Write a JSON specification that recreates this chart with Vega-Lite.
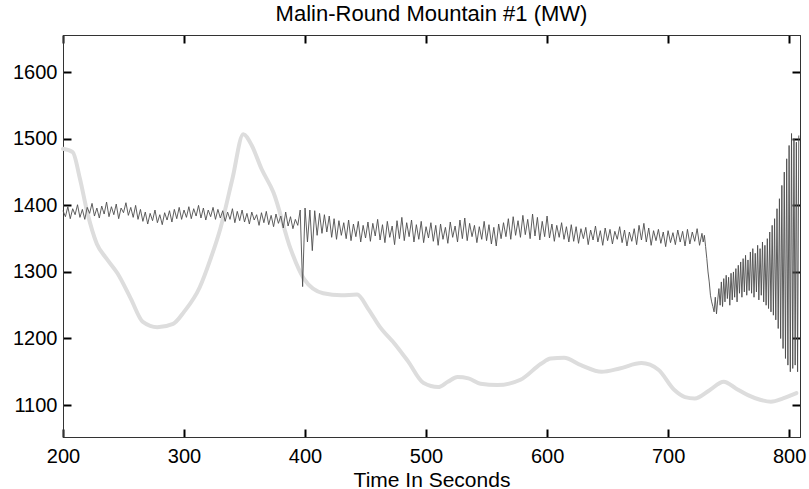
{
  "$schema": "https://vega.github.io/schema/vega-lite/v6.json",
  "width": 737,
  "height": 402,
  "autosize": {"type": "none"},
  "padding": {"left": 63, "top": 35, "right": 9, "bottom": 52},
  "background": "white",
  "config": {
    "view": {"stroke": "#333", "strokeWidth": 1},
    "font": "Liberation Sans",
    "axis": {"grid": false, "domainColor": "#333", "labelColor": "#000", "titleColor": "#000", "labelFont": "Liberation Sans", "titleFont": "Liberation Sans", "labelFontSize": 20, "titleFontSize": 21, "titleFontWeight": "normal"}
  },
  "title": {"text": "Malin-Round Mountain #1 (MW)", "fontSize": 22, "fontWeight": "normal", "font": "Liberation Sans", "color": "#000", "offset": 8, "anchor": "middle"},
  "data": {"values": [
      {"s":"slow","t":200,"v":1485},{"s":"slow","t":208,"v":1480},{"s":"slow","t":214,"v":1440},{"s":"slow","t":220,"v":1390},{"s":"slow","t":228,"v":1342},{"s":"slow","t":236,"v":1320},{"s":"slow","t":245,"v":1298},{"s":"slow","t":256,"v":1260},{"s":"slow","t":266,"v":1225},{"s":"slow","t":278,"v":1217},{"s":"slow","t":291,"v":1222},{"s":"slow","t":300,"v":1240},{"s":"slow","t":313,"v":1277},{"s":"slow","t":322,"v":1320},{"s":"slow","t":330,"v":1365},{"s":"slow","t":340,"v":1440},{"s":"slow","t":349,"v":1507},{"s":"slow","t":356,"v":1490},{"s":"slow","t":364,"v":1455},{"s":"slow","t":374,"v":1419},{"s":"slow","t":388,"v":1335},{"s":"slow","t":399,"v":1290},{"s":"slow","t":415,"v":1268},{"s":"slow","t":430,"v":1265},{"s":"slow","t":443,"v":1266},{"s":"slow","t":452,"v":1245},{"s":"slow","t":462,"v":1217},{"s":"slow","t":475,"v":1190},{"s":"slow","t":485,"v":1166},{"s":"slow","t":498,"v":1133},{"s":"slow","t":510,"v":1127},{"s":"slow","t":518,"v":1135},{"s":"slow","t":526,"v":1142},{"s":"slow","t":535,"v":1140},{"s":"slow","t":545,"v":1132},{"s":"slow","t":559,"v":1130},{"s":"slow","t":578,"v":1138},{"s":"slow","t":595,"v":1162},{"s":"slow","t":603,"v":1170},{"s":"slow","t":614,"v":1171},{"s":"slow","t":628,"v":1160},{"s":"slow","t":645,"v":1150},{"s":"slow","t":660,"v":1155},{"s":"slow","t":678,"v":1163},{"s":"slow","t":692,"v":1153},{"s":"slow","t":705,"v":1123},{"s":"slow","t":714,"v":1112},{"s":"slow","t":722,"v":1110},{"s":"slow","t":734,"v":1122},{"s":"slow","t":746,"v":1135},{"s":"slow","t":756,"v":1125},{"s":"slow","t":766,"v":1115},{"s":"slow","t":776,"v":1108},{"s":"slow","t":785,"v":1105},{"s":"slow","t":795,"v":1110},{"s":"slow","t":802,"v":1115},{"s":"slow","t":806,"v":1118},
      {"s":"fast","t":200,"v":1392},{"s":"fast","t":202,"v":1383},{"s":"fast","t":204,"v":1398},{"s":"fast","t":206,"v":1380},{"s":"fast","t":208,"v":1395},{"s":"fast","t":210,"v":1386},{"s":"fast","t":212,"v":1401},{"s":"fast","t":214,"v":1382},{"s":"fast","t":216,"v":1394},{"s":"fast","t":218,"v":1379},{"s":"fast","t":220,"v":1397},{"s":"fast","t":222,"v":1388},{"s":"fast","t":224,"v":1403},{"s":"fast","t":226,"v":1384},{"s":"fast","t":228,"v":1396},{"s":"fast","t":230,"v":1381},{"s":"fast","t":232,"v":1399},{"s":"fast","t":234,"v":1387},{"s":"fast","t":236,"v":1405},{"s":"fast","t":238,"v":1383},{"s":"fast","t":240,"v":1398},{"s":"fast","t":242,"v":1386},{"s":"fast","t":244,"v":1402},{"s":"fast","t":246,"v":1380},{"s":"fast","t":248,"v":1396},{"s":"fast","t":250,"v":1389},{"s":"fast","t":252,"v":1404},{"s":"fast","t":254,"v":1385},{"s":"fast","t":256,"v":1397},{"s":"fast","t":258,"v":1382},{"s":"fast","t":260,"v":1400},
      {"s":"fast","t":262,"v":1379},{"s":"fast","t":264,"v":1394},{"s":"fast","t":266,"v":1376},{"s":"fast","t":268,"v":1390},{"s":"fast","t":270,"v":1372},{"s":"fast","t":272,"v":1388},{"s":"fast","t":274,"v":1377},{"s":"fast","t":276,"v":1393},{"s":"fast","t":278,"v":1374},{"s":"fast","t":280,"v":1386},{"s":"fast","t":282,"v":1371},{"s":"fast","t":284,"v":1389},{"s":"fast","t":286,"v":1378},{"s":"fast","t":288,"v":1392},{"s":"fast","t":290,"v":1375},{"s":"fast","t":292,"v":1394},{"s":"fast","t":294,"v":1380},{"s":"fast","t":296,"v":1397},{"s":"fast","t":298,"v":1379},{"s":"fast","t":300,"v":1393},
      {"s":"fast","t":302,"v":1382},{"s":"fast","t":304,"v":1398},{"s":"fast","t":306,"v":1380},{"s":"fast","t":308,"v":1395},{"s":"fast","t":310,"v":1384},{"s":"fast","t":312,"v":1400},{"s":"fast","t":314,"v":1381},{"s":"fast","t":316,"v":1396},{"s":"fast","t":318,"v":1378},{"s":"fast","t":320,"v":1393},{"s":"fast","t":322,"v":1383},{"s":"fast","t":324,"v":1397},{"s":"fast","t":326,"v":1379},{"s":"fast","t":328,"v":1394},{"s":"fast","t":330,"v":1381},{"s":"fast","t":332,"v":1392},{"s":"fast","t":334,"v":1376},{"s":"fast","t":336,"v":1390},{"s":"fast","t":338,"v":1379},{"s":"fast","t":340,"v":1395},
      {"s":"fast","t":342,"v":1374},{"s":"fast","t":344,"v":1391},{"s":"fast","t":346,"v":1377},{"s":"fast","t":348,"v":1393},{"s":"fast","t":350,"v":1375},{"s":"fast","t":352,"v":1388},{"s":"fast","t":354,"v":1372},{"s":"fast","t":356,"v":1390},{"s":"fast","t":358,"v":1378},{"s":"fast","t":360,"v":1386},{"s":"fast","t":362,"v":1370},{"s":"fast","t":364,"v":1389},{"s":"fast","t":366,"v":1374},{"s":"fast","t":368,"v":1391},{"s":"fast","t":370,"v":1371},{"s":"fast","t":372,"v":1385},{"s":"fast","t":374,"v":1368},{"s":"fast","t":376,"v":1387},{"s":"fast","t":378,"v":1373},{"s":"fast","t":380,"v":1384},{"s":"fast","t":382,"v":1366},{"s":"fast","t":384,"v":1390},{"s":"fast","t":386,"v":1369},{"s":"fast","t":388,"v":1383},{"s":"fast","t":390,"v":1365},{"s":"fast","t":392,"v":1379},{"s":"fast","t":394,"v":1370},{"s":"fast","t":396,"v":1393},
      {"s":"fast","t":398,"v":1278},{"s":"fast","t":400,"v":1396},{"s":"fast","t":402,"v":1345},{"s":"fast","t":404,"v":1393},{"s":"fast","t":406,"v":1332},{"s":"fast","t":408,"v":1392},{"s":"fast","t":410,"v":1355},{"s":"fast","t":412,"v":1388},{"s":"fast","t":414,"v":1358},{"s":"fast","t":416,"v":1386},{"s":"fast","t":418,"v":1360},{"s":"fast","t":420,"v":1384},
      {"s":"fast","t":422,"v":1352},{"s":"fast","t":424,"v":1380},{"s":"fast","t":426,"v":1349},{"s":"fast","t":428,"v":1377},{"s":"fast","t":430,"v":1355},{"s":"fast","t":432,"v":1374},{"s":"fast","t":434,"v":1350},{"s":"fast","t":436,"v":1378},{"s":"fast","t":438,"v":1347},{"s":"fast","t":440,"v":1372},{"s":"fast","t":442,"v":1353},{"s":"fast","t":444,"v":1376},{"s":"fast","t":446,"v":1345},{"s":"fast","t":448,"v":1370},{"s":"fast","t":450,"v":1351},{"s":"fast","t":452,"v":1375},{"s":"fast","t":454,"v":1346},{"s":"fast","t":456,"v":1373},{"s":"fast","t":458,"v":1354},{"s":"fast","t":460,"v":1379},{"s":"fast","t":462,"v":1348},{"s":"fast","t":464,"v":1371},{"s":"fast","t":466,"v":1344},{"s":"fast","t":468,"v":1376},{"s":"fast","t":470,"v":1352},{"s":"fast","t":472,"v":1369},{"s":"fast","t":474,"v":1341},{"s":"fast","t":476,"v":1377},{"s":"fast","t":478,"v":1350},{"s":"fast","t":480,"v":1382},{"s":"fast","t":482,"v":1347},{"s":"fast","t":484,"v":1374},{"s":"fast","t":486,"v":1353},{"s":"fast","t":488,"v":1378},{"s":"fast","t":490,"v":1345},{"s":"fast","t":492,"v":1371},{"s":"fast","t":494,"v":1349},{"s":"fast","t":496,"v":1376},{"s":"fast","t":498,"v":1344},{"s":"fast","t":500,"v":1368},{"s":"fast","t":502,"v":1351},{"s":"fast","t":504,"v":1374},{"s":"fast","t":506,"v":1346},{"s":"fast","t":508,"v":1370},{"s":"fast","t":510,"v":1340},{"s":"fast","t":512,"v":1372},{"s":"fast","t":514,"v":1349},{"s":"fast","t":516,"v":1367},{"s":"fast","t":518,"v":1343},{"s":"fast","t":520,"v":1375},{"s":"fast","t":522,"v":1352},{"s":"fast","t":524,"v":1369},{"s":"fast","t":526,"v":1345},{"s":"fast","t":528,"v":1378},{"s":"fast","t":530,"v":1350},{"s":"fast","t":532,"v":1381},{"s":"fast","t":534,"v":1347},{"s":"fast","t":536,"v":1373},{"s":"fast","t":538,"v":1353},{"s":"fast","t":540,"v":1370},{"s":"fast","t":542,"v":1344},{"s":"fast","t":544,"v":1368},{"s":"fast","t":546,"v":1349},{"s":"fast","t":548,"v":1376},{"s":"fast","t":550,"v":1347},{"s":"fast","t":552,"v":1371},{"s":"fast","t":554,"v":1342},{"s":"fast","t":556,"v":1367},{"s":"fast","t":558,"v":1339},{"s":"fast","t":560,"v":1372},
      {"s":"fast","t":562,"v":1350},{"s":"fast","t":564,"v":1374},{"s":"fast","t":566,"v":1353},{"s":"fast","t":568,"v":1380},{"s":"fast","t":570,"v":1349},{"s":"fast","t":572,"v":1383},{"s":"fast","t":574,"v":1355},{"s":"fast","t":576,"v":1377},{"s":"fast","t":578,"v":1352},{"s":"fast","t":580,"v":1385},{"s":"fast","t":582,"v":1356},{"s":"fast","t":584,"v":1379},{"s":"fast","t":586,"v":1350},{"s":"fast","t":588,"v":1387},{"s":"fast","t":590,"v":1354},{"s":"fast","t":592,"v":1382},{"s":"fast","t":594,"v":1348},{"s":"fast","t":596,"v":1376},{"s":"fast","t":598,"v":1353},{"s":"fast","t":600,"v":1384},{"s":"fast","t":602,"v":1351},{"s":"fast","t":604,"v":1372},{"s":"fast","t":606,"v":1346},{"s":"fast","t":608,"v":1370},{"s":"fast","t":610,"v":1352},{"s":"fast","t":612,"v":1374},{"s":"fast","t":614,"v":1349},{"s":"fast","t":616,"v":1368},{"s":"fast","t":618,"v":1345},{"s":"fast","t":620,"v":1371},
      {"s":"fast","t":622,"v":1346},{"s":"fast","t":624,"v":1368},{"s":"fast","t":626,"v":1343},{"s":"fast","t":628,"v":1365},{"s":"fast","t":630,"v":1350},{"s":"fast","t":632,"v":1367},{"s":"fast","t":634,"v":1341},{"s":"fast","t":636,"v":1363},{"s":"fast","t":638,"v":1348},{"s":"fast","t":640,"v":1369},{"s":"fast","t":642,"v":1345},{"s":"fast","t":644,"v":1362},{"s":"fast","t":646,"v":1340},{"s":"fast","t":648,"v":1366},{"s":"fast","t":650,"v":1347},{"s":"fast","t":652,"v":1364},{"s":"fast","t":654,"v":1342},{"s":"fast","t":656,"v":1361},{"s":"fast","t":658,"v":1349},{"s":"fast","t":660,"v":1368},{"s":"fast","t":662,"v":1344},{"s":"fast","t":664,"v":1363},{"s":"fast","t":666,"v":1339},{"s":"fast","t":668,"v":1360},{"s":"fast","t":670,"v":1346},{"s":"fast","t":672,"v":1365},{"s":"fast","t":674,"v":1341},{"s":"fast","t":676,"v":1370},{"s":"fast","t":678,"v":1348},{"s":"fast","t":680,"v":1373},{"s":"fast","t":682,"v":1345},{"s":"fast","t":684,"v":1366},{"s":"fast","t":686,"v":1340},{"s":"fast","t":688,"v":1362},{"s":"fast","t":690,"v":1347},{"s":"fast","t":692,"v":1364},{"s":"fast","t":694,"v":1343},{"s":"fast","t":696,"v":1360},{"s":"fast","t":698,"v":1338},{"s":"fast","t":700,"v":1362},{"s":"fast","t":702,"v":1344},{"s":"fast","t":704,"v":1359},{"s":"fast","t":706,"v":1341},{"s":"fast","t":708,"v":1363},{"s":"fast","t":710,"v":1345},{"s":"fast","t":712,"v":1361},{"s":"fast","t":714,"v":1339},{"s":"fast","t":716,"v":1364},{"s":"fast","t":718,"v":1342},{"s":"fast","t":720,"v":1360},{"s":"fast","t":722,"v":1346},{"s":"fast","t":724,"v":1365},{"s":"fast","t":726,"v":1340},{"s":"fast","t":728,"v":1358},
      {"s":"fast","t":729,"v":1345},{"s":"fast","t":730,"v":1355},{"s":"fast","t":731,"v":1338},{"s":"fast","t":732,"v":1320},{"s":"fast","t":733,"v":1300},{"s":"fast","t":734,"v":1285},{"s":"fast","t":735,"v":1265},{"s":"fast","t":736,"v":1255},{"s":"fast","t":737,"v":1248},{"s":"fast","t":738,"v":1240},{"s":"fast","t":739,"v":1262},{"s":"fast","t":740,"v":1237},{"s":"fast","t":741,"v":1258},{"s":"fast","t":742,"v":1275},{"s":"fast","t":743,"v":1250},{"s":"fast","t":744,"v":1285},{"s":"fast","t":745,"v":1248},{"s":"fast","t":746,"v":1290},{"s":"fast","t":747,"v":1255},{"s":"fast","t":748,"v":1295},{"s":"fast","t":749,"v":1260},{"s":"fast","t":750,"v":1292},{"s":"fast","t":751,"v":1250},{"s":"fast","t":752,"v":1298},{"s":"fast","t":753,"v":1258},{"s":"fast","t":754,"v":1300},{"s":"fast","t":755,"v":1262},{"s":"fast","t":756,"v":1305},{"s":"fast","t":757,"v":1255},{"s":"fast","t":758,"v":1310},{"s":"fast","t":759,"v":1268},{"s":"fast","t":760,"v":1315},{"s":"fast","t":761,"v":1262},{"s":"fast","t":762,"v":1320},{"s":"fast","t":763,"v":1270},{"s":"fast","t":764,"v":1325},{"s":"fast","t":765,"v":1265},{"s":"fast","t":766,"v":1318},{"s":"fast","t":767,"v":1272},{"s":"fast","t":768,"v":1330},{"s":"fast","t":769,"v":1268},{"s":"fast","t":770,"v":1335},{"s":"fast","t":771,"v":1262},{"s":"fast","t":772,"v":1328},{"s":"fast","t":773,"v":1270},{"s":"fast","t":774,"v":1340},{"s":"fast","t":775,"v":1258},{"s":"fast","t":776,"v":1335},{"s":"fast","t":777,"v":1265},{"s":"fast","t":778,"v":1345},{"s":"fast","t":779,"v":1255},{"s":"fast","t":780,"v":1340},{"s":"fast","t":781,"v":1250},{"s":"fast","t":782,"v":1350},{"s":"fast","t":783,"v":1245},{"s":"fast","t":784,"v":1360},{"s":"fast","t":785,"v":1240},{"s":"fast","t":786,"v":1370},{"s":"fast","t":787,"v":1235},{"s":"fast","t":788,"v":1380},{"s":"fast","t":789,"v":1228},{"s":"fast","t":790,"v":1395},{"s":"fast","t":791,"v":1215},{"s":"fast","t":792,"v":1410},{"s":"fast","t":793,"v":1200},{"s":"fast","t":794,"v":1430},{"s":"fast","t":795,"v":1185},{"s":"fast","t":796,"v":1450},{"s":"fast","t":797,"v":1170},{"s":"fast","t":798,"v":1470},{"s":"fast","t":799,"v":1160},{"s":"fast","t":800,"v":1490},{"s":"fast","t":801,"v":1150},{"s":"fast","t":802,"v":1508},{"s":"fast","t":803,"v":1155},{"s":"fast","t":804,"v":1500},{"s":"fast","t":805,"v":1160},{"s":"fast","t":806,"v":1495},{"s":"fast","t":807,"v":1150},{"s":"fast","t":808,"v":1505}
  ]},
  "layer": [
    {
      "transform": [{"filter": "datum.s == 'slow'"}],
      "mark": {"type": "line", "color": "#dddddd", "strokeWidth": 4, "strokeCap": "round", "strokeJoin": "round", "interpolate": "monotone"},
      "encoding": {
        "x": {"field": "t", "type": "quantitative", "scale": {"domain": [200, 809], "nice": false, "zero": false},
              "axis": {"orient": "bottom", "title": "Time In Seconds", "tickCount": 7, "tickSize": -8, "tickColor": "#000", "tickWidth": 2, "labelPadding": 17, "titlePadding": 3, "labelFlush": false, "format": "d"}},
        "y": {"field": "v", "type": "quantitative", "scale": {"domain": [1052, 1656], "nice": false, "zero": false},
              "axis": {"orient": "left", "title": null, "tickCount": 6, "tickSize": -8, "tickColor": "#000", "tickWidth": 2, "labelPadding": 14, "format": "d"}}
      }
    },
    {
      "transform": [{"filter": "datum.s == 'fast'"}],
      "mark": {"type": "line", "color": "#4d4d4d", "strokeWidth": 0.9},
      "encoding": {
        "x": {"field": "t", "type": "quantitative", "axis": {"orient": "top", "title": null, "labels": false, "tickCount": 7, "tickSize": -8, "tickColor": "#000", "tickWidth": 2}},
        "y": {"field": "v", "type": "quantitative", "axis": {"orient": "right", "title": null, "labels": false, "tickCount": 6, "tickSize": -8, "tickColor": "#000", "tickWidth": 2}}
      }
    }
  ],
  "resolve": {"axis": {"x": "independent", "y": "independent"}}
}
